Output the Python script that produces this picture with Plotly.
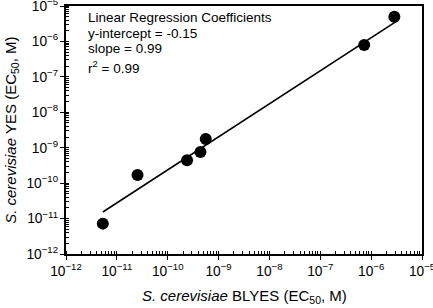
import plotly.graph_objects as go

# Data (EC50 in M)
blyes_ec50 = [5.3e-12, 2.55e-11, 2.4e-10, 4.4e-10, 5.6e-10, 7.3e-7, 2.86e-6]
yes_ec50 = [7.2e-12, 1.7e-10, 4.4e-10, 7.6e-10, 1.76e-9, 7.9e-7, 4.99e-6]
fit_x = [5.3e-12, 3.3e-6]
fit_y = [1.53e-11, 3.85e-6]

annot_lines = ["Linear Regression Coefficients", "y-intercept = -0.15",
               "slope = 0.99", "r<sup>2</sup> = 0.99"]
annot_y = [0.952, 0.891, 0.827, 0.755]

x_title = "<i>S. cerevisiae</i> BLYES (EC<sub>50</sub>, M)"
y_title = "<i>S. cerevisiae</i> YES (EC<sub>50</sub>, M)"

font = "Liberation Sans, Arial, sans-serif"

fig = go.Figure()
fig.add_trace(go.Scatter(x=fit_x, y=fit_y, mode="lines",
                         line=dict(color="black", width=1.6), showlegend=False))
fig.add_trace(go.Scatter(x=blyes_ec50, y=yes_ec50, mode="markers",
                         marker=dict(color="black", size=12), showlegend=False))

axis_common = dict(
    type="log", dtick=1, exponentformat="power", showgrid=False, zeroline=False,
    showline=True, linecolor="black", linewidth=1.5, mirror=True,
    ticks="outside", ticklen=4, tickwidth=1, tickcolor="black", automargin=False,
    ticklabeloverflow="allow",
    tickfont=dict(family=font, size=11, color="black"),
    minor=dict(ticks="inside", ticklen=3, tickcolor="black", showgrid=False),
)

fig.update_xaxes(range=[-12, -5], **axis_common)
fig.update_yaxes(range=[-12, -5], **axis_common)

for txt, yy in zip(annot_lines, annot_y):
    fig.add_annotation(text=txt, xref="paper", yref="paper",
                       x=0.057, y=yy, xanchor="left", yanchor="middle", showarrow=False,
                       align="left", font=dict(family=font, size=13.5, color="black"))

fig.add_annotation(text=x_title, xref="paper", yref="paper", x=0.5, y=-0.173,
                   xanchor="center", yanchor="middle", showarrow=False,
                   font=dict(family=font, size=15, color="black"))
fig.add_annotation(text=y_title, xref="paper", yref="paper", x=-0.155, y=0.5,
                   xanchor="center", yanchor="middle", showarrow=False, textangle=-90,
                   font=dict(family=font, size=15, color="black"))

fig.update_layout(width=433, height=308, margin=dict(l=66, r=11, t=6, b=54),
                  plot_bgcolor="white", paper_bgcolor="white")
fig.write_html("out.html", config={"displayModeBar": False},
               post_script="document.body.style.margin='0';document.body.style.overflow='hidden';")
